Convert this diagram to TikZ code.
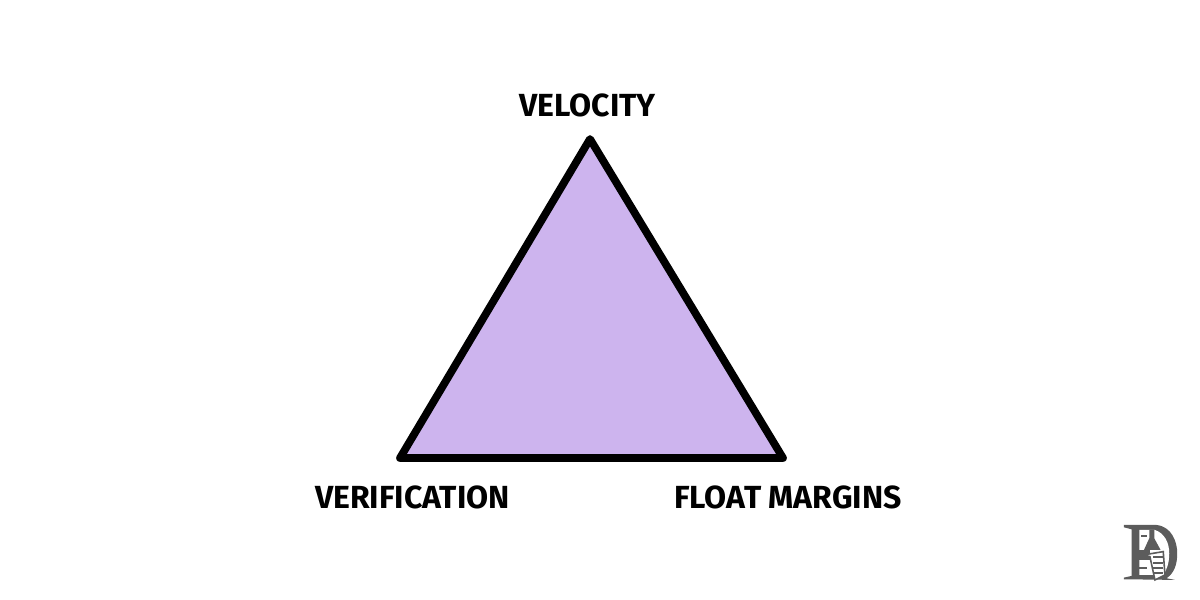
\documentclass[tikz,border=0pt]{standalone}
\usepackage{fontspec}
\setmainfont{Fira Sans}
\usetikzlibrary{positioning}
\definecolor{triviolet}{RGB}{205,180,238}
\definecolor{logogray}{RGB}{92,92,92}
\begin{document}
\begin{tikzpicture}[
        corner/.style={font=\bfseries\fontsize{9.1}{11}\selectfont, text=black, inner sep=0pt},
        edge/.style={line width=2.2pt, line join=round},
        logoline/.style={logogray, line width=0.45pt}
    ]
        \useasboundingbox (0,0) rectangle (12,6);

        % Triangle
        \coordinate (top) at (5.9,4.61);
        \coordinate (left) at (4.0,1.42);
        \coordinate (right) at (7.83,1.42);
        \fill[triviolet] (top) -- (left) -- (right) -- cycle;
        \draw[edge] (top) -- (left) -- (right) -- cycle;

        % Labels
        \node[corner] (velocity) at (5.875,4.95) {VELOCITY};
        \node[corner] (verification) at (4.125,1.03) {VERIFICATION};
        \node[corner] (margins) at (7.88,1.03) {FLOAT MARGINS};

        % Logo
        \begin{scope}[shift={(11,0.9)}, x=0.0333cm, y=-0.0333cm]
            \fill[logogray] (7.2,4.5) -- (17,4.5) .. controls (21.5,5) and (23.2,9.5) .. (23.2,13) .. controls (23.2,16.5) and (22.2,19) .. (20,20.5) -- (22.5,21) -- (7.2,20.8) -- (7.2,20.3) -- (9.5,19.8) -- (9.5,5.8) -- (7.2,5.2) -- cycle;
            \fill[white] (11.8,6) -- (16.5,6) .. controls (19.5,7) and (20.8,10) .. (20.8,13) .. controls (20.8,16) and (20,18) .. (19,19.5) -- (11.8,19.5) -- cycle;
            \fill[logogray] (14.8,6) -- (16.3,6) -- (16.3,8.5) -- (18.2,12) -- (13.2,12) -- (14.8,8.5) -- cycle;
            \fill[logogray] (12.4,7.4) rectangle (14,8);
            \fill[logogray] (11.8,12) -- (15,12) -- (15,15) -- (11.8,15) -- cycle;
            \fill[logogray] (11.8,17) rectangle (14,17.6);
            \fill[white] (13,13.5) -- (19,12.5) -- (19.5,19.5) -- (16.5,21) -- (15,14) -- cycle;
            \draw[logoline] (13,13.5) -- (19,12.5) -- (19.5,19.5) -- (16.5,21) -- (15,14) -- cycle;
            \foreach \lvl in {14.2,15.8,17.4,18.9}
                \draw[logoline, line width=0.6pt] (16,\lvl) -- (18.8,\lvl);
        \end{scope}
    \end{tikzpicture}
\end{document}
